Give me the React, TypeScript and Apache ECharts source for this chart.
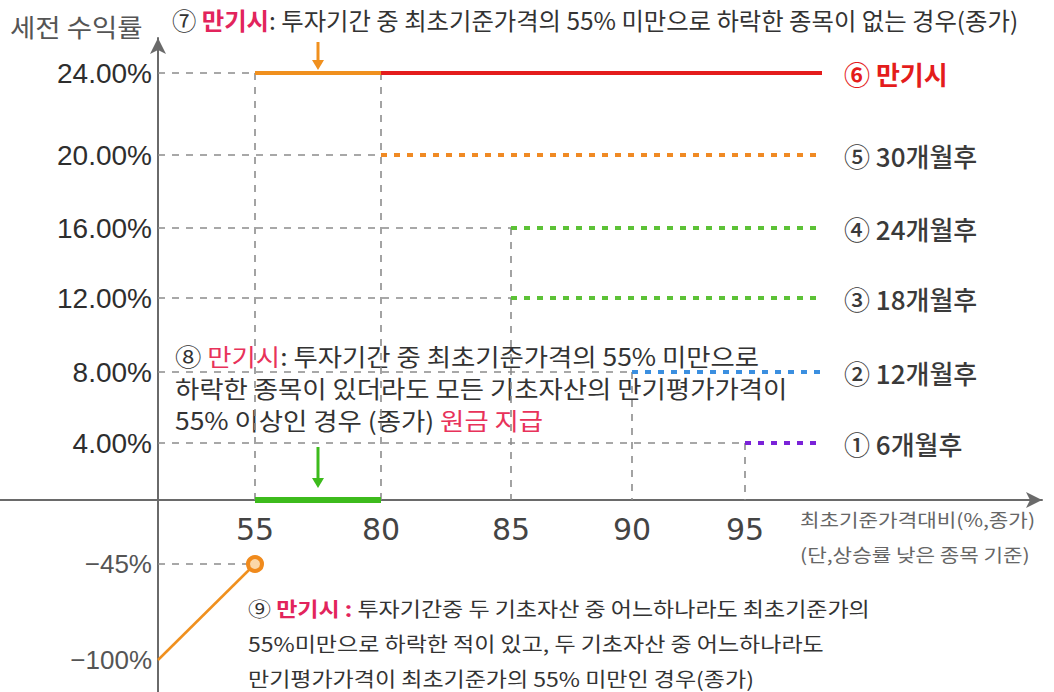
import React, { useEffect, useRef } from 'react';
import * as echarts from 'echarts';

// ---------- data ----------
const xTickValues = [55, 80, 85, 90, 95];
const yTickValues = [24, 20, 16, 12, 8, 4, -45, -100];
const yTickLabels = ['24.00%', '20.00%', '16.00%', '12.00%', '8.00%', '4.00%', '−45%', '−100%'];

const payoffNames = ['⑥ 만기시', '⑤ 30개월후', '④ 24개월후', '③ 18개월후', '② 12개월후', '① 6개월후'];
const payoffLevels = [24, 20, 16, 12, 8, 4];
const payoffStarts = [80, 80, 85, 85, 90, 95];
const periodEnd = 100;

const maturityNoBreach = [55, 80]; // ⑦ 55~80 at 24%
const maturityNoBreachLevel = 24;
const principalRange = [55, 80]; // ⑧ principal repaid
const principalLevel = 0;
const lossLine = [
  [0, -100],
  [55, -45],
]; // ⑨

// schematic (non-linear) axis scales : value -> distance (px) from origin
const xScaleStops = [
  [0, 0], [55, 97], [80, 223], [85, 353], [90, 474], [95, 587], [100, 664],
];
const yScaleStops = [
  [-100, -160], [-45, -64], [0, 0], [4, 57], [8, 128], [12, 202], [16, 272], [20, 345], [24, 427],
];

function makeScale(stops: number[][]) {
  return (v: number) => {
    for (let i = 0; i < stops.length - 1; i++) {
      const [a, pa] = stops[i];
      const [b, pb] = stops[i + 1];
      if (v <= b || i === stops.length - 2) {
        return pa + ((v - a) * (pb - pa)) / (b - a);
      }
    }
    return 0;
  };
}
const sx = makeScale(xScaleStops);
const sy = makeScale(yScaleStops);
const P = (x: number, y: number) => [sx(x), sy(y)];

const FONT = '"Noto Sans CJK KR", "Noto Sans", sans-serif';
const ORIGIN_X = 158;
const ORIGIN_Y = 500;
const GRID_TOP = 38;
const H = 692;

const seriesStyles = [
  { color: '#e41c1c', type: 'solid' },
  { color: '#f08a24', type: [6, 7] },
  { color: '#5cc236', type: [6, 7] },
  { color: '#5cc236', type: [6, 7] },
  { color: '#3b8fe0', type: [6, 7] },
  { color: '#7a22d8', type: [6, 7] },
];

export default function App() {
  const ref = useRef<HTMLDivElement>(null);
  useEffect(() => {
    if (!ref.current) return;
    const chart = echarts.init(ref.current, null, { renderer: 'svg' });

    // guide lines
    const guides: any[] = [];
    payoffLevels.forEach((lvl, i) => {
      const start = i === 0 ? maturityNoBreach[0] : payoffStarts[i];
      guides.push({ coords: [P(0, lvl), P(start, lvl)] });
    });
    const vStarts: Record<number, number> = {};
    vStarts[maturityNoBreach[0]] = maturityNoBreachLevel;
    payoffStarts.forEach((s, i) => {
      vStarts[s] = Math.max(vStarts[s] ?? -Infinity, payoffLevels[i]);
    });
    Object.keys(vStarts).forEach((k) => {
      const s = Number(k);
      guides.push({ coords: [P(s, vStarts[s]), P(s, 0)] });
    });
    guides.push({ coords: [P(0, lossLine[1][1]), P(lossLine[1][0], lossLine[1][1])] });

    const payoffSeries = payoffLevels.map((lvl, i) => ({
      type: 'line',
      data: [P(payoffStarts[i], lvl), P(periodEnd, lvl)],
      showSymbol: false,
      symbol: 'none',
      lineStyle: { color: seriesStyles[i].color, width: 4, type: seriesStyles[i].type as any, cap: 'butt' },
      endLabel: {
        show: true,
        distance: 22,
        formatter: payoffNames[i],
        fontFamily: FONT,
        fontSize: 26,
        fontWeight: i === 0 ? 'bold' : 500,
        color: i === 0 ? '#e41c1c' : '#3a3a3a',
      },
      z: 3,
    }));

    const midX = ORIGIN_X + sx((maturityNoBreach[0] + maturityNoBreach[1]) / 2);

    const arrow = (x: number, y1: number, y2: number, color: string) => [
      { type: 'line', shape: { x1: x, y1, x2: x, y2: y2 - 8 }, style: { stroke: color, lineWidth: 3 } },
      {
        type: 'polygon',
        shape: { points: [[x - 6, y2 - 10], [x + 6, y2 - 10], [x, y2]] },
        style: { fill: color },
      },
    ];

    const option: any = {
      animation: false,
      textStyle: { fontFamily: FONT },
      grid: { left: 0, right: 12, top: GRID_TOP, bottom: 0, containLabel: false, outerBoundsMode: 'none' },
      xAxis: {
        type: 'value',
        min: -ORIGIN_X,
        max: 884,
        offset: -(H - ORIGIN_Y),
        splitLine: { show: false },
        axisTick: { show: false },
        axisLine: {
          show: true,
          onZero: false,
          symbol: ['none', 'arrow'],
          symbolSize: [12, 16],
          lineStyle: { color: '#6a6a6a', width: 2 },
        },
        axisLabel: {
          customValues: xTickValues.map(sx),
          margin: 14,
          fontFamily: '"DejaVu Sans", sans-serif',
          fontSize: 30,
          color: '#444',
          formatter: (v: number) => {
            const i = xTickValues.findIndex((t) => Math.abs(sx(t) - v) < 0.5);
            return i >= 0 ? String(xTickValues[i]) : '';
          },
        },
      },
      yAxis: {
        type: 'value',
        min: -(H - ORIGIN_Y),
        max: ORIGIN_Y - GRID_TOP,
        offset: -ORIGIN_X,
        splitLine: { show: false },
        axisTick: { show: false },
        axisLine: {
          show: true,
          onZero: false,
          symbol: ['none', 'arrow'],
          symbolSize: [12, 16],
          lineStyle: { color: '#6a6a6a', width: 2 },
        },
        axisLabel: {
          customValues: yTickValues.map(sy),
          margin: 6,
          fontFamily: '"Liberation Sans", Arial, sans-serif',
          fontSize: 28,
          color: '#2e2e2e',
          formatter: (v: number) => {
            const i = yTickValues.findIndex((t) => Math.abs(sy(t) - v) < 0.5);
            if (i < 0) return '';
            return yTickValues[i] < 0 ? `{neg|${yTickLabels[i]}}` : yTickLabels[i];
          },
          rich: {
            neg: { fontFamily: '"Liberation Sans", Arial, sans-serif', fontSize: 26, color: '#555' },
          },
        },
      },
      series: [
        {
          type: 'lines',
          coordinateSystem: 'cartesian2d',
          polyline: false,
          data: guides,
          lineStyle: { color: '#8c8c8c', width: 1.6, type: [7, 7], opacity: 1 },
          z: 1,
        },
        ...payoffSeries,
        {
          type: 'line',
          data: maturityNoBreach.map((x) => P(x, maturityNoBreachLevel)),
          showSymbol: false,
          symbol: 'none',
          lineStyle: { color: '#f0901e', width: 4 },
          z: 4,
        },
        {
          type: 'line',
          data: principalRange.map((x) => P(x, principalLevel)),
          showSymbol: false,
          symbol: 'none',
          lineStyle: { color: '#3dbb1c', width: 6 },
          z: 4,
        },
        {
          type: 'line',
          data: [
            { value: P(lossLine[0][0], lossLine[0][1]), symbol: 'none' },
            { value: P(lossLine[1][0], lossLine[1][1]), symbol: 'circle' },
          ],
          showSymbol: true,
          symbolSize: 14,
          itemStyle: { color: '#fbd7a8', borderColor: '#f08a1c', borderWidth: 4 },
          lineStyle: { color: '#f0901e', width: 2.5 },
          z: 4,
        },
      ],
      graphic: [
        {
          type: 'text',
          x: 10,
          y: 14,
          scaleX: 1.1,
          style: { text: '세전 수익률', font: `25px ${FONT}`, fill: '#555' },
        },
        {
          type: 'text',
          x: 172,
          y: 8,
          scaleX: 1.015,
          style: {
            text: '⑦ {r|만기시}: 투자기간 중 최초기준가격의 55% 미만으로 하락한 종목이 없는 경우(종가)',
            font: `24px ${FONT}`,
            fill: '#333',
            rich: { r: { fill: '#e2245c', font: `bold 24px ${FONT}` } },
          },
        },
        {
          type: 'text',
          x: 175,
          y: 340,
          scaleX: 1.1,
          style: {
            text:
              '⑧ {r|만기시}: 투자기간 중 최초기준가격의 55% 미만으로\n하락한 종목이 있더라도 모든 기초자산의 만기평가가격이\n55% 이상인 경우 (종가) {r|원금 지급}',
            font: `24px ${FONT}`,
            lineHeight: 32,
            fill: '#333',
            rich: { r: { fill: '#e8325a', font: `24px ${FONT}`, lineHeight: 32 } },
          },
        },
        {
          type: 'text',
          x: 248,
          y: 591,
          scaleX: 1.15,
          style: {
            text:
              '⑨ {r|만기시 :} 투자기간중 두 기초자산 중 어느하나라도 최초기준가의\n55%미만으로 하락한 적이 있고, 두 기초자산 중 어느하나라도\n만기평가가격이 최초기준가의 55% 미만인 경우(종가)',
            font: `20px ${FONT}`,
            lineHeight: 35,
            fill: '#333',
            rich: { r: { fill: '#e2245c', font: `bold 20px ${FONT}`, lineHeight: 35 } },
          },
        },
        {
          type: 'text',
          x: 800,
          y: 510,
          scaleX: 1.18,
          style: { text: '최초기준가격대비(%,종가)', font: `18px ${FONT}`, fill: '#666' },
        },
        {
          type: 'text',
          x: 800,
          y: 545,
          scaleX: 1.18,
          style: { text: '(단,상승률 낮은 종목 기준)', font: `18px ${FONT}`, fill: '#666' },
        },
        ...arrow(midX, 42, 70, '#f0901e'),
        ...arrow(midX, 447, 488, '#3dbb1c'),
      ],
    };
    chart.setOption(option);
    return () => chart.dispose();
  }, []);
  return (
    <div
      ref={ref}
      style={{ position: 'absolute', left: 0, top: 0, width: 1054, height: 692, background: '#fff' }}
    />
  );
}
